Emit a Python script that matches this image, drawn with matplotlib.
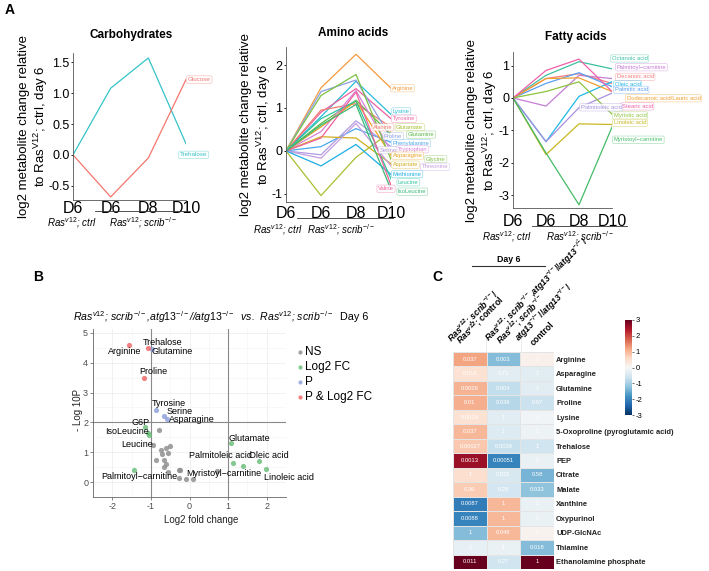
import matplotlib
matplotlib.use('Agg')
import matplotlib.pyplot as plt
from matplotlib.colors import to_rgba
from matplotlib.lines import Line2D
import numpy as np

plt.rcParams['font.family'] = ['Liberation Sans', 'DejaVu Sans']
plt.rcParams['axes.unicode_minus'] = False
plt.rcParams['mathtext.fontset'] = 'custom'
plt.rcParams['mathtext.rm'] = 'Liberation Sans'
plt.rcParams['mathtext.it'] = 'Liberation Sans:italic'
plt.rcParams['mathtext.bf'] = 'Liberation Sans:italic:bold'

# ---------------- data, panel A ----------------
days = ['D6', 'D6', 'D8', 'D10']
x_days = [0, 1, 2, 3]

carb_names = ['Trehalose', 'Glucose']
carb_values = [
    [0, 1.08, 1.57, 0.18],
    [0, -0.68, -0.05, 1.22],
]
carb_colors = ['#35c3c8', '#f4766c']

amino_names = ['Arginine', 'Lysine', 'Tyrosine', 'Alanine', 'Glutamate', 'Proline',
               'Glutamine', 'Phenylalanine', 'Serine', 'Tryptophan', 'Asparagine',
               'Glycine', 'Aspartate', 'Threonine', 'Methionine', 'Leucine', 'Valine',
               'IsoLeucine']
amino_values = [
    [0, 1.47, 2.25, 1.46],
    [0, 0.80, 1.62, 0.85],
    [0, 0.90, 1.45, 0.75],
    [0, 0.95, 1.10, 0.55],
    [0, -1.04, -0.15, 0.45],
    [0, 1.38, 1.65, 0.30],
    [0, 0.64, 1.18, 0.38],
    [0, 0.10, 0.52, 0.20],
    [0, -0.09, 0.70, 0.10],
    [0, 0.45, 1.40, 0.00],
    [0, 0.56, 1.16, -0.10],
    [0, 1.29, 1.78, -0.20],
    [0, 0.33, 0.30, -0.30],
    [0, -0.17, 0.64, -0.35],
    [0, -0.35, 0.15, -0.55],
    [0, 0.75, 1.16, -0.65],
    [0, 0.30, 1.37, -0.80],
    [0, 0.60, 1.08, -0.90],
]
amino_colors = ['#f39a3c', '#27bcd8', '#ec5fa0', '#f47c70', '#a8bf2f', '#8c9ee6',
                '#5dbb4a', '#4aa9ea', '#b09be0', '#d681d8', '#e9a21e', '#7cc243',
                '#d1ac1c', '#c59de2', '#1aaee6', '#2fc39e', '#f0609a', '#3db877']

fatty_names = ['Octanoic acid', 'Palmitoyl\u2212carnitine', 'Decanoic acid', 'Oleic acid',
               'Palmitic acid', 'Dodecanoic acid/Lauric acid', 'Stearic acid',
               'Palmitoleic acid', 'Myristic acid', 'Linoleic acid', 'Myristoyl\u2212carnitine']
fatty_values = [
    [0, 0.70, 1.12, 0.90],
    [0, -0.25, 0.70, 0.60],
    [0, 0.60, 0.75, 0.45],
    [0, -1.35, 0.05, 0.50],
    [0, 0.45, 0.78, 0.35],
    [0, 0.60, 0.62, 0.20],
    [0, 0.85, 1.20, 0.20],
    [0, -1.35, -0.30, 0.15],
    [0, 0.20, 0.50, -0.50],
    [0, -1.75, -0.80, -0.82],
    [0, -1.70, -3.30, -0.90],
]
fatty_colors = ['#3cc0a0', '#c77cd6', '#f47c7c', '#1fb8e8', '#5aa0f0', '#f0a030',
                '#f060a8', '#a890e0', '#8cc43c', '#c8b820', '#44bb66']

# ---------------- data, panel B ----------------
vol_names = ['Arginine', 'Trehalose', 'Glutamine', 'Proline', 'Tyrosine', 'Serine',
             'Asparagine', 'G6P', 'IsoLeucine', '', 'Leucine', '', 'Palmitoyl\u2212carnitine',
             'Glutamate', 'Palmitoleic acid', '', 'Oleic acid', 'Linoleic acid',
             'Myristoyl\u2212carnitine', '', '', '', '', '', '', '', '', '', '', '', '',
             '', '', '']
vol_fc = [-1.58, -1.07, -0.98, -1.19, -0.87, -0.66, -0.57, -1.16, -1.07, -1.04, -0.95,
          -0.78, -1.43, 1.07, 1.13, 1.38, 1.79, 1.99, 0.70, -0.73, -0.60, -0.50, -0.70,
          -0.56, -0.86, -0.65, -0.60, -0.65, -0.56, -0.28, -0.24, -0.27, -0.10, 0.10]
vol_logp = [4.60, 4.48, 4.47, 3.50, 2.43, 2.23, 2.12, 1.86, 1.65, 1.57, 1.23, 1.75,
            0.42, 1.31, 0.64, 0.54, 0.71, 0.44, 0.36, 1.09, 1.15, 1.21, 0.95, 0.98,
            0.74, 0.74, 0.61, 0.52, 0.35, 0.40, 0.40, 0.15, 0.09, 0.10]

# ---------------- data, panel C ----------------
heat_rows = ['Arginine', 'Asparagine', 'Glutamine', 'Proline', 'Lysine',
             '5-Oxoproline (pyroglutamic acid)', 'Trehalose', 'PEP', 'Citrate', 'Malate',
             'Xanthine', 'Oxypurinol', 'UDP-GlcNAc', 'Thiamine', 'Ethanolamine phosphate']
heat_scrib_ctrl = [1.2, 0.45, 1.05, 1.1, 0.45, 1.0, 0.8, 2.6, 0.5, 0.75, -2.1, -2.0, -1.3, -0.25, 3.0]
heat_atg_scrib = [-1.3, -0.35, -0.75, -0.85, -0.35, -0.4, -0.7, -2.0, -0.5, -0.55, 1.0, 1.0, 1.0, -0.2, -0.6]
heat_atg_ctrl = [0.15, -0.35, -0.35, -0.65, -0.1, -0.15, -0.6, -0.2, -1.4, -1.2, -0.2, -0.2, 0.1, -1.3, 3.0]
p_scrib_ctrl = ['0.037', '0.016', '0.0026', '0.01', '0.0018', '0.037', '0.00027', '0.0013',
                '1', '0.36', '0.0087', '0.0088', '1', '1', '0.011']
p_atg_scrib = ['0.003', '0.73', '0.004', '0.036', '1', '1', '0.0039', '0.00051', '0.025',
               '0.28', '1', '1', '0.048', '1', '0.27']
p_atg_ctrl = ['1', '1', '1', '0.67', '1', '1', '1', '1', '0.58', '0.033', '1', '1', '1',
              '0.018', '1']

W, H = 709, 571


def box(l, t, r, b):
    return [l / W, 1 - b / H, (r - l) / W, (b - t) / H]


def fx(px):
    return px / W


def fy(py):
    return 1 - py / H


fig = plt.figure(figsize=(W / 100, H / 100), dpi=100)

# ---------------- panel A ----------------
carb_lab = [(2.84, 0.0), (3.05, 1.22)]
amino_lab = [(3.02, 1.46), (3.05, 0.92), (3.05, 0.75), (2.49, 0.55), (3.15, 0.55),
             (2.8, 0.34), (3.48, 0.38), (3.05, 0.18), (2.67, 0.02), (3.2, 0.04),
             (3.05, -0.11), (4.0, -0.19), (3.05, -0.32), (3.88, -0.37), (3.05, -0.54),
             (3.2, -0.73), (2.63, -0.88), (3.2, -0.95)]
fatty_lab = [(2.99, 1.22), (3.14, 0.95), (3.14, 0.65), (3.08, 0.42), (3.08, 0.25),
             (3.44, -0.01), (3.29, -0.26), (2.05, -0.29), (3.05, -0.54), (3.05, -0.77),
             (3.05, -1.29)]

panels = [
    dict(rect=(73, 53, 186, 200), title='Carbohydrates', tx=131, ty=35,
         names=carb_names, values=carb_values, colors=carb_colors, lab=carb_lab,
         ylim=(-0.73, 1.65), yticks=[-0.5, 0, 0.5, 1, 1.5], ylx=-0.2, pad=1,
         line=(95, 190, 211), g1=(72, 223), g2=(143, 223), fs=4.5),
    dict(rect=(286, 47, 391, 202), title='Amino acids', tx=353, ty=33,
         names=amino_names, values=amino_values, colors=amino_colors, lab=amino_lab,
         ylim=(-1.19, 2.42), yticks=[-1, 0, 1, 2], ylx=-0.125, pad=3,
         line=(297, 393, 218), g1=(278, 230), g2=(341, 230), fs=4.2),
    dict(rect=(513, 52, 612, 208), title='Fatty acids', tx=576, ty=37,
         names=fatty_names, values=fatty_values, colors=fatty_colors, lab=fatty_lab,
         ylim=(-3.4, 1.42), yticks=[-3, -2, -1, 0, 1], ylx=-0.14, pad=4,
         line=(532, 627, 226), g1=(507, 237), g2=(580, 237), fs=4.2),
]

for p in panels:
    ax = fig.add_axes(box(*p['rect']))
    for name, vals, c, (lx, ly) in zip(p['names'], p['values'], p['colors'], p['lab']):
        ax.plot(x_days, vals, color=c, lw=0.9)
        ax.text(lx, ly, name, fontsize=p['fs'], color=c, ha='left', va='center',
                clip_on=False,
                bbox=dict(boxstyle='round,pad=0.2,rounding_size=0.25',
                          fc=(1, 1, 1, 0.85), ec=to_rgba(c, 0.45), lw=0.5))
    ax.set_xlim(0, 3)
    ax.set_ylim(*p['ylim'])
    ax.set_yticks(p['yticks'])
    ax.set_xticks(x_days)
    ax.set_xticklabels(days, fontsize=11.5)
    ax.tick_params(axis='x', length=0, pad=p['pad'])
    ax.tick_params(axis='y', labelsize=9, length=1.5, width=0.6, pad=1)
    for s in ['top', 'right']:
        ax.spines[s].set_visible(False)
    for s in ['left', 'bottom']:
        ax.spines[s].set_linewidth(0.6)
        ax.spines[s].set_color('#555555')
    ax.set_ylabel('log2 metabolite change relative\nto Ras$^{\\mathrm{V12}}$; ctrl, day 6',
                  fontsize=9.5)
    ax.yaxis.set_label_coords(p['ylx'], 0.5)
    fig.text(fx(p['tx']), fy(p['ty']), p['title'], fontsize=8.5, fontweight='bold',
             ha='center', va='center')
    x0, x1, yl = p['line']
    fig.add_artist(Line2D([fx(x0), fx(x1)], [fy(yl), fy(yl)], color='#333333', lw=0.6))
    fig.text(fx(p['g1'][0]), fy(p['g1'][1]), r'$Ras^{v12}$; $ctrl$', fontsize=7,
             style='italic', ha='center', va='center')
    fig.text(fx(p['g2'][0]), fy(p['g2'][1]), r'$Ras^{v12}$; $scrib^{-/-}$', fontsize=7,
             style='italic', ha='center', va='center')

# ---------------- panel B ----------------
vol_lab = {'Arginine': (-1.67, 4.39), 'Trehalose': (-0.71, 4.69), 'Glutamine': (-0.45, 4.39),
           'Proline': (-0.95, 3.72), 'Tyrosine': (-0.54, 2.65), 'Serine': (-0.26, 2.35),
           'Asparagine': (0.06, 2.09), 'G6P': (-1.26, 2.0), 'IsoLeucine': (-1.63, 1.68),
           'Leucine': (-1.35, 1.26), 'Glutamate': (1.56, 1.47),
           'Palmitoleic acid': (0.81, 0.88), 'Oleic acid': (2.06, 0.90),
           'Linoleic acid': (2.58, 0.17), 'Palmitoyl\u2212carnitine': (-1.29, 0.2),
           'Myristoyl\u2212carnitine': (0.9, 0.28)}

cat_colors = {'NS': '#8f8f8f', 'Log2 FC': '#6cbf7c', 'P': '#8ea3dc', 'P & Log2 FC': '#f06a6a'}
fc = np.array(vol_fc)
lp = np.array(vol_logp)
cats = np.where((np.abs(fc) >= 1) & (lp >= 2), 'P & Log2 FC',
                np.where(lp >= 2, 'P', np.where(np.abs(fc) >= 1, 'Log2 FC', 'NS')))

axb = fig.add_axes(box(93, 329, 286, 497))
axb.set_xlim(-2.31, 2.29)
axb.set_ylim(-0.27, 5.13)
axb.set_xticks([-2, -1, 0, 1, 2])
axb.set_yticks([0, 1, 2, 3, 4, 5])
axb.set_xticks(np.arange(-2.5, 2.6, 0.5), minor=True)
axb.set_yticks(np.arange(-0.5, 5.2, 0.5), minor=True)
axb.grid(which='major', color='#ebebeb', lw=0.5)
axb.grid(which='minor', color='#f4f4f4', lw=0.4)
axb.set_axisbelow(True)
axb.tick_params(which='minor', length=0)
axb.tick_params(which='major', labelsize=6.5, labelcolor='#4d4d4d', length=2, width=0.5,
                color='#555555', pad=1.5)
for s in ['top', 'right']:
    axb.spines[s].set_visible(False)
for s in ['left', 'bottom']:
    axb.spines[s].set_linewidth(0.6)
    axb.spines[s].set_color('#666666')
axb.axvline(-1, color='#8a8a8a', lw=0.8)
axb.axvline(1, color='#8a8a8a', lw=0.8)
axb.axhline(2, color='#8a8a8a', lw=0.8)
handles = []
for cat in ['NS', 'Log2 FC', 'P', 'P & Log2 FC']:
    m = cats == cat
    h = axb.scatter(fc[m], lp[m], s=14, color=cat_colors[cat], alpha=0.85, lw=0,
                    label=cat, zorder=3)
    handles.append(h)
for name, (lx, ly) in vol_lab.items():
    axb.text(lx, ly, name, fontsize=6.5, ha='center', va='center', clip_on=False, zorder=4)
axb.set_xlabel('Log2 fold change', fontsize=7, color='#222222')
axb.xaxis.set_label_coords(0.56, -0.11)
axb.set_ylabel('- Log 10P', fontsize=7, color='#222222')
axb.yaxis.set_label_coords(-0.05, 0.52)
fig.legend(handles=handles, loc='upper left', bbox_to_anchor=(fx(291), fy(340)),
           frameon=False, fontsize=8.5, handletextpad=0.05, labelspacing=0.25,
           handlelength=0.6, borderpad=0, markerscale=0.8)
fig.text(fx(73), fy(317),
         r'$Ras^{v12}$; $scrib^{-/-}$,$atg13^{-/-}$//$atg13^{-/-}$  vs.  $Ras^{v12}$; $scrib^{-/-}$',
         fontsize=7.6, style='italic', ha='left', va='center')
fig.text(fx(340), fy(317), 'Day 6', fontsize=7.8, ha='left', va='center')

# ---------------- panel C ----------------
heat = np.array([heat_scrib_ctrl, heat_atg_scrib, heat_atg_ctrl]).T
ptxt = np.array([p_scrib_ctrl, p_atg_scrib, p_atg_ctrl]).T
axc = fig.add_axes(box(453, 352, 554, 569))
mesh = axc.pcolormesh(np.arange(4), np.arange(len(heat_rows) + 1), heat, cmap='RdBu_r',
                      vmin=-3, vmax=3, edgecolors='#e4e4e4', linewidth=0.5)
axc.set_xlim(0, 3)
axc.set_ylim(len(heat_rows), 0)
for i in range(len(heat_rows)):
    for j in range(3):
        axc.text(j + 0.5, i + 0.5, ptxt[i, j], fontsize=4.2, color='white',
                 ha='center', va='center')
axc.set_xticks([])
axc.yaxis.tick_right()
axc.set_yticks(np.arange(len(heat_rows)) + 0.5)
axc.set_yticklabels(heat_rows, fontsize=5.4, fontweight='bold', color='#222222')
axc.tick_params(axis='y', length=0, pad=1.5)
for s in axc.spines.values():
    s.set_visible(False)

cax = fig.add_axes(box(625, 320, 632, 415))
cb = fig.colorbar(mesh, cax=cax, ticks=[-3, -2, -1, 0, 1, 2, 3])
cb.outline.set_visible(False)
cax.tick_params(labelsize=5.5, length=1.5, width=0.4, pad=1)

# column headers: one rotated text per line
col_heads = [
    (454, 345, r'$\mathbf{Ras}^{\mathbf{v12}}$; $\mathbf{scrib}^{\mathbf{-/-}}$/'),
    (463, 347, r'$\mathbf{Ras}^{\mathbf{v12}}$; control'),
    (492, 345, r'$\mathbf{Ras}^{\mathbf{v12}}$; $\mathbf{scrib}^{\mathbf{-/-}}$,'
     + r'$\mathbf{atg13}^{\mathbf{-/-}}$//$\mathbf{atg13}^{\mathbf{-/-}}$/'),
    (503, 347, r'$\mathbf{Ras}^{\mathbf{v12}}$; $\mathbf{scrib}^{\mathbf{-/-}}$'),
    (522, 345, r'$\mathbf{atg13}^{\mathbf{-/-}}$//$\mathbf{atg13}^{\mathbf{-/-}}$/'),
    (535, 347, 'control'),
]
for hx, hy, txt in col_heads:
    fig.text(fx(hx), fy(hy), txt, fontsize=6.2, fontweight='bold', rotation=45,
             rotation_mode='anchor', ha='left', va='bottom')
for sx in [486, 521]:
    fig.add_artist(Line2D([fx(sx), fx(sx)], [fy(333), fy(352)], color='#e4e4e4', lw=0.5))
fig.text(fx(509), fy(259), 'Day 6', fontsize=6.3, fontweight='bold', ha='center', va='center')
fig.add_artist(Line2D([fx(472), fx(545)], [fy(266), fy(266)], color='#333333', lw=0.8))

# panel letters
fig.text(fx(5), fy(10), 'A', fontsize=10, fontweight='bold', ha='left', va='center')
fig.text(fx(33), fy(277), 'B', fontsize=10, fontweight='bold', ha='left', va='center')
fig.text(fx(432), fy(277), 'C', fontsize=10, fontweight='bold', ha='left', va='center')

fig.savefig('out.png', dpi=100)
